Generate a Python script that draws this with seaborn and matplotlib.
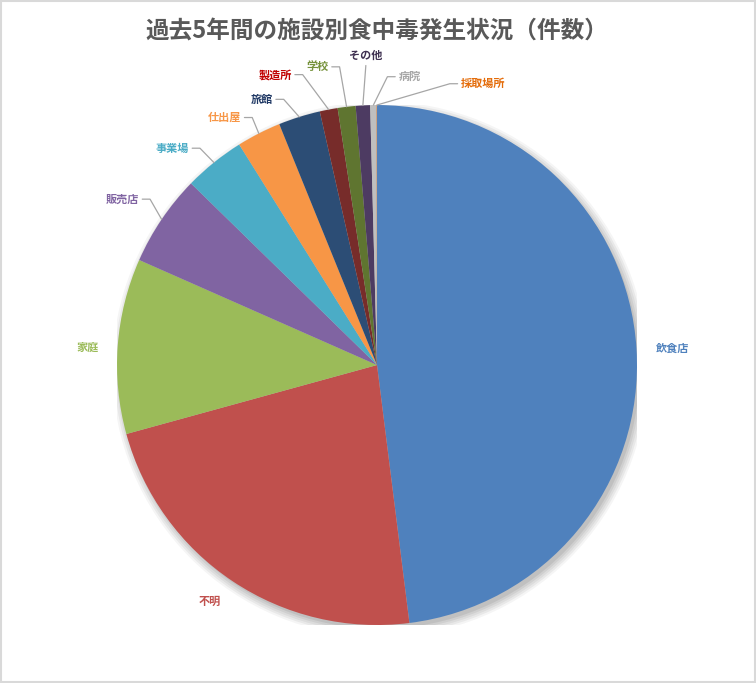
import numpy as np
import matplotlib
matplotlib.use('Agg')
import matplotlib.pyplot as plt
import seaborn as sns
from matplotlib.patches import Circle, Rectangle

# 施設別食中毒発生件数（過去5年間）
facilities = ['飲食店', '不明', '家庭', '販売店', '事業場', '仕出屋',
              '旅館', '製造所', '学校', 'その他', '病院', '採取場所']
counts = [2160, 1022, 490, 256, 171, 124, 117, 50, 50, 40, 18, 1]

slice_colors = ['#4F81BD', '#C0504D', '#9BBB59', '#8064A2', '#4BACC6', '#F79646',
                '#2C4D75', '#772C2A', '#5F7530', '#4D3B62', '#BFBFBF', '#E46C0A']
label_colors = ['#4F81BD', '#C0504D', '#9BBB59', '#8064A2', '#4BACC6', '#F79646',
                '#1F3864', '#C00000', '#76923C', '#3F3151', '#A6A6A6', '#E46C0A']

# label placement in pie units (x, y, ha, leader?)
label_layout = [
    (1.138, 0.065, 'center', False),
    (-0.642, -0.908, 'center', False),
    (-1.112, 0.069, 'center', False),
    (-0.915, 0.638, 'right', True),
    (-0.723, 0.834, 'right', True),
    (-0.522, 0.952, 'right', True),
    (-0.401, 1.022, 'right', True),
    (-0.328, 1.117, 'right', True),
    (-0.186, 1.147, 'right', True),
    (-0.043, 1.192, 'center', True),
    (0.082, 1.109, 'left', True),
    (0.322, 1.082, 'left', True),
]

sns.set_theme(style='white')
plt.rcParams['font.family'] = ['Noto Sans CJK JP', 'DejaVu Sans']

fig = plt.figure(figsize=(7.56, 6.83), dpi=100)
fig.patch.set_facecolor('white')
fig.add_artist(Rectangle((0.001, 0.001), 0.998, 0.997, transform=fig.transFigure,
                         fill=False, edgecolor='#D9D9D9', linewidth=1.5))

ax = fig.add_axes([0.1548, 0.0849, 0.6878, 0.7613])

wedges, _ = ax.pie(counts, colors=slice_colors, startangle=90, counterclock=False,
                   radius=1.0, wedgeprops=dict(linewidth=0))
for w in wedges:
    w.set_zorder(2)

# soft shadow
for i, a in enumerate([0.04, 0.05, 0.05, 0.06, 0.07]):
    ax.add_patch(Circle((0.012, -0.016), 1.03 - i * 0.008, color='#000000',
                        alpha=a, linewidth=0, zorder=0))

ax.set_xlim(-1, 1)
ax.set_ylim(-1, 1)
ax.set_aspect('equal')
ax.axis('off')

for w, name, col, (lx, ly, ha, leader) in zip(wedges, facilities, label_colors, label_layout):
    ax.text(lx, ly, name, color=col, fontsize=8, fontweight='bold',
            ha=ha, va='center', zorder=5, clip_on=False)
    if not leader:
        continue
    mid = np.deg2rad((w.theta1 + w.theta2) / 2)
    ex, ey = np.cos(mid) * 1.0, np.sin(mid) * 1.0
    if ha == 'right':
        sx = lx + 0.012
        kx = sx + 0.03
        xs, ys = [sx, kx, ex], [ly, ly, ey]
    elif ha == 'left':
        sx = lx - 0.012
        kx = sx - 0.03
        xs, ys = [sx, kx, ex], [ly, ly, ey]
    else:
        xs, ys = [lx, ex], [ly - 0.04, ey]
    ax.plot(xs, ys, color='#A6A6A6', linewidth=0.9, zorder=4, clip_on=False)

fig.text(0.4987, 0.954, '過去5年間の施設別食中毒発生状況（件数）', ha='center', va='center',
         fontsize=17, fontweight='bold', color='#595959')

fig.savefig('out.png', dpi=100)
